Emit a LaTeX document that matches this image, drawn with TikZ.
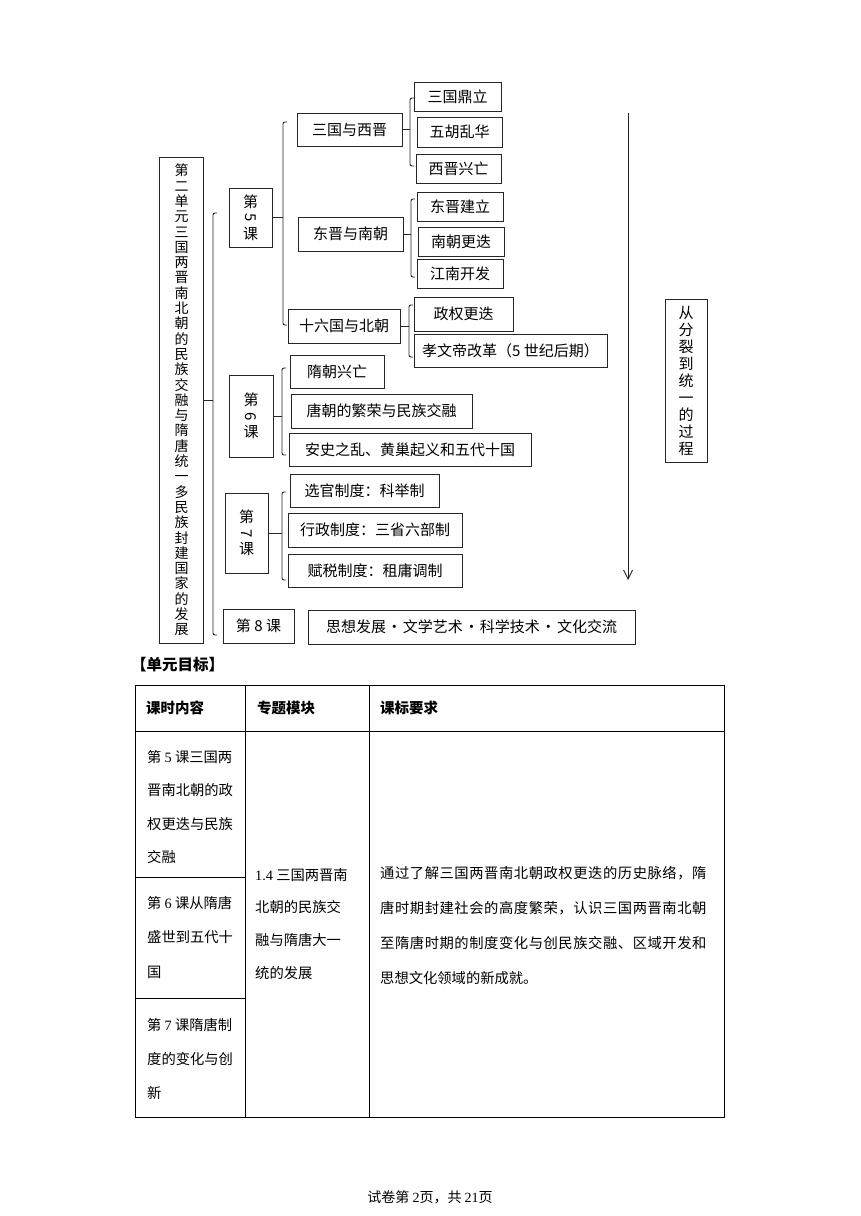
\documentclass[tikz,border=0pt]{standalone}
\usepackage{fontspec}
\setmainfont{Noto Sans CJK SC}
\newfontfamily\numfont{Liberation Serif}
\newfontfamily\widecjk{Noto Sans CJK SC}[LetterSpace=3.9]
\usetikzlibrary{arrows.meta,positioning}

\begin{document}
\begin{tikzpicture}[x=1pt, y=-1pt,
    topic/.style={draw=black!85, line width=0.9pt, inner sep=0pt,
        font=\fontsize{15}{18}\selectfont},
    vtopic/.style={topic, align=center},
    brace/.style={draw=black!85, line width=0.9pt, rounded corners=2pt},
    link/.style={draw=black!85, line width=0.9pt},
    rule/.style={draw=black, line width=1pt},
    cell/.style={anchor=north west, inner sep=0pt, align=left},
    head/.style={anchor=west, inner sep=0pt, font=\bfseries\fontsize{14.5}{17}\selectfont},
    >={Straight Barb[length=9pt,width=9pt]}
]
\useasboundingbox (0,0) rectangle (860,1216);

% unit title
\node[vtopic, minimum width=44, minimum height=486, font=\fontsize{14}{15.3}\selectfont] (unit) at (181.5,400)
    {第\\二\\单\\元\\三\\国\\两\\晋\\南\\北\\朝\\的\\民\\族\\交\\融\\与\\隋\\唐\\统\\一\\多\\民\\族\\封\\建\\国\\家\\的\\发\\展};

% lessons
\node[vtopic, minimum width=43, minimum height=59, font=\fontsize{15}{16}\selectfont] (k5) at (250.5,217.5) {第\\\rotatebox[origin=c]{-90}{5}\\课};
\node[vtopic, minimum width=44, minimum height=82, font=\fontsize{15}{16}\selectfont] (k6) at (251,416) {第\\\rotatebox[origin=c]{-90}{6}\\课};
\node[vtopic, minimum width=43, minimum height=80, font=\fontsize{15}{16}\selectfont] (k7) at (246.5,533) {第\\\rotatebox[origin=c]{-90}{7}\\课};
\node[topic, minimum width=71, minimum height=34] (k8) at (258.5,626) {第 8 课};

% lesson 5
\node[topic, minimum width=105, minimum height=33] (sgxj) at (349.5,129.5) {三国与西晋};
\node[topic, minimum width=105, minimum height=34] (djnc) at (350.5,234) {东晋与南朝};
\node[topic, minimum width=112, minimum height=34] (slgbc) at (344,326) {十六国与北朝};

\node[topic, minimum width=87, minimum height=29] (sgdl) at (457.5,96.5) {三国鼎立};
\node[topic, minimum width=85, minimum height=30] (whlh) at (459.5,132) {五胡乱华};
\node[topic, minimum width=85, minimum height=29] (xjxw) at (458.5,168.5) {西晋兴亡};
\node[topic, minimum width=86, minimum height=29] (djjl) at (460,206.5) {东晋建立};
\node[topic, minimum width=86, minimum height=29] (ncgd) at (461,241.5) {南朝更迭};
\node[topic, minimum width=86, minimum height=29] (jnkf) at (460,273.5) {江南开发};
\node[topic, minimum width=99, minimum height=34] (zqgd) at (463.5,314) {政权更迭};
\node[topic, minimum width=193, minimum height=33] (xwdgg) at (510.5,350.5) {孝文帝改革（5 世纪后期）};

% lesson 6
\node[topic, minimum width=94, minimum height=33] (sclw) at (337,371.5) {隋朝兴亡};
\node[topic, minimum width=181, minimum height=34] (tcfr) at (381.5,411) {唐朝的繁荣与民族交融};
\node[topic, minimum width=242, minimum height=33] (aszl) at (410,449.5) {安史之乱、黄巢起义和五代十国};

% lesson 7
\node[topic, minimum width=149, minimum height=33] (xgzd) at (364.5,490.5) {选官制度：科举制};
\node[topic, minimum width=174, minimum height=34] (xzzd) at (375,530) {行政制度：三省六部制};
\node[topic, minimum width=174, minimum height=33] (fszd) at (375,570.5) {赋税制度：租庸调制};

% lesson 8
\node[topic, minimum width=327, minimum height=34] (sxwh) at (471.5,627)
    {思想发展\hspace{1pt}·\hspace{1pt}文学艺术\hspace{1pt}·\hspace{1pt}科学技术\hspace{1pt}·\hspace{1pt}文化交流};

% timeline
\coordinate (atop) at (628,113);
\coordinate (abot) at (628,580);
\draw[link, ->] (atop) -- (abot);
\node[vtopic, minimum width=42, minimum height=163, font=\fontsize{15}{17}\selectfont] (proc) at (686,380.5)
    {从\\分\\裂\\到\\统\\一\\的\\过\\程};

% brackets
\coordinate (tb1) at (213,213);  \coordinate (tb2) at (213,635);
\coordinate (b5a) at (283,122);  \coordinate (b5b) at (283,325);
\coordinate (b6a) at (282,368);  \coordinate (b6b) at (282,455);
\coordinate (b7a) at (282,492);  \coordinate (b7b) at (282,580);
\coordinate (s1a) at (410,98);   \coordinate (s1b) at (410,166);
\coordinate (s2a) at (411,199);  \coordinate (s2b) at (411,277);
\coordinate (s3a) at (409,305);  \coordinate (s3b) at (409,357);
\foreach \a/\b in {tb1/tb2, b5a/b5b, b6a/b6b, b7a/b7b, s1a/s1b, s2a/s2b, s3a/s3b}
    \draw[brace] ([xshift=4]\a) -- (\a) -- (\b) -- ([xshift=4]\b);
\draw[link] (unit.east) -- (unit.east -| tb1);
\draw[link] (k5.east) -- (k5.east -| b5a);
\draw[link] (k6.east) -- (k6.east -| b6a);
\draw[link] (k7.east) -- (k7.east -| b7a);
\draw[link] (sgxj.east) -- (sgxj.east -| s1a);
\draw[link] (djnc.east) -- (djnc.east -| s2a);
\draw[link] (slgbc.east) -- (slgbc.east -| s3a);

% unit goals table
\node[anchor=west, inner sep=0pt, font=\bfseries\fontsize{15.5}{18}\selectfont] (goal) at (131,665) {【单元目标】};
\draw[rule] (135,685) rectangle (724,1117);
\draw[rule] (135,731) -- (724,731);
\draw[rule] (245,685) -- (245,1117);
\draw[rule] (369,685) -- (369,1117);
\draw[rule] (135,877) -- (245,877);
\draw[rule] (135,998) -- (245,998);

\node[head] (h1) at (146,708) {课时内容};
\node[head] (h2) at (257,708) {专题模块};
\node[head] (h3) at (380,708) {课标要求};

\node[cell, font=\fontsize{14.3}{33.5}\selectfont] (c1) at (147,750)
    {第 {\numfont 5} 课三国两\\晋南北朝的政\\权更迭与民族\\交融};
\node[cell, font=\fontsize{14.3}{34.5}\selectfont] (c2) at (147,896)
    {第 {\numfont 6} 课从隋唐\\盛世到五代十\\国};
\node[cell, font=\fontsize{14.3}{34}\selectfont] (c3) at (147,1018)
    {第 {\numfont 7} 课隋唐制\\度的变化与创\\新};
\node[cell, font=\fontsize{14.3}{32.7}\selectfont] (c4) at (255,868)
    {{\numfont 1.4} 三国两晋南\\北朝的民族交\\融与隋唐大一\\统的发展};
\node[cell, font=\fontsize{14.3}{35}\selectfont] (c5) at (380,866)
    {{\widecjk 通过了解三国两晋南北朝政权更迭的历史脉络，隋}\\{\widecjk 唐时期封建社会的高度繁荣，认识三国两晋南北朝}\\{\widecjk 至隋唐时期的制度变化与创民族交融、区域开发和}\\思想文化领域的新成就。};

% footer
\node[inner sep=0pt, font=\fontsize{14}{16}\selectfont] (foot) at (430,1197) {试卷第 {\numfont 2}页，共 {\numfont 21}页};
\end{tikzpicture}
\end{document}
